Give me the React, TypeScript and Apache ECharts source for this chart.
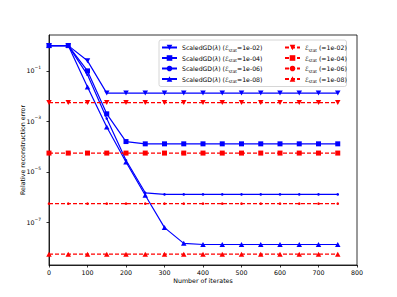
import React, { useEffect, useRef } from "react";
import * as echarts from "echarts";

const iterations = [0, 50, 100, 150, 200, 250, 300, 350, 400, 450, 500, 550, 600, 650, 700, 750];

const gd1 = [1.0, 1.0, 0.25, 0.0132, 0.0132, 0.0132, 0.0132, 0.0132, 0.0132, 0.0132, 0.0132, 0.0132, 0.0132, 0.0132, 0.0132, 0.0132];
const gd2 = [1.0, 1.0, 0.1, 0.002, 1.6e-4, 1.3e-4, 1.3e-4, 1.3e-4, 1.3e-4, 1.3e-4, 1.3e-4, 1.3e-4, 1.3e-4, 1.3e-4, 1.3e-4, 1.3e-4];
const gd3 = [1.0, 1.0, 0.07, 0.0013, 2.9e-5, 1.5e-6, 1.3e-6, 1.3e-6, 1.3e-6, 1.3e-6, 1.3e-6, 1.3e-6, 1.3e-6, 1.3e-6, 1.3e-6, 1.3e-6];
const gd4 = [1.0, 1.0, 0.023, 6e-4, 2.5e-5, 1.2e-6, 6.3e-8, 1.5e-8, 1.35e-8, 1.35e-8, 1.35e-8, 1.35e-8, 1.35e-8, 1.35e-8, 1.35e-8, 1.35e-8];

const stat1 = [5.6e-3, 5.6e-3, 5.6e-3, 5.6e-3, 5.6e-3, 5.6e-3, 5.6e-3, 5.6e-3, 5.6e-3, 5.6e-3, 5.6e-3, 5.6e-3, 5.6e-3, 5.6e-3, 5.6e-3, 5.6e-3];
const stat2 = [5.6e-5, 5.6e-5, 5.6e-5, 5.6e-5, 5.6e-5, 5.6e-5, 5.6e-5, 5.6e-5, 5.6e-5, 5.6e-5, 5.6e-5, 5.6e-5, 5.6e-5, 5.6e-5, 5.6e-5, 5.6e-5];
const stat3 = [5.6e-7, 5.6e-7, 5.6e-7, 5.6e-7, 5.6e-7, 5.6e-7, 5.6e-7, 5.6e-7, 5.6e-7, 5.6e-7, 5.6e-7, 5.6e-7, 5.6e-7, 5.6e-7, 5.6e-7, 5.6e-7];
const stat4 = [5.6e-9, 5.6e-9, 5.6e-9, 5.6e-9, 5.6e-9, 5.6e-9, 5.6e-9, 5.6e-9, 5.6e-9, 5.6e-9, 5.6e-9, 5.6e-9, 5.6e-9, 5.6e-9, 5.6e-9, 5.6e-9];

const epsLabels = ["1e-02", "1e-04", "1e-06", "1e-08"];
const yTickValues = [1e-1, 1e-3, 1e-5, 1e-7];
const xTicks = [0, 100, 200, 300, 400, 500, 600, 700, 800];

const FONT = "DejaVu Sans";

export default function App() {
  const ref = useRef<HTMLDivElement>(null);
  useEffect(() => {
    if (!ref.current) return;
    const chart = echarts.init(ref.current, undefined, { renderer: "svg" });
    const pair = (ys: number[]) => iterations.map((x, i) => [x, ys[i]]);
    const gdData = [gd1, gd2, gd3, gd4];
    const statData = [stat1, stat2, stat3, stat4];
    const symbols = [
      { symbol: "triangle", rotate: 180, size: [5.5, 5] },
      { symbol: "rect", rotate: 0, size: 5 },
      { symbol: "circle", rotate: 0, size: 2.6 },
      { symbol: "triangle", rotate: 0, size: [5.5, 5] },
    ];
    const gdNames = epsLabels.map((_, i) => "gd" + i);
    const stNames = epsLabels.map((_, i) => "st" + i);
    const series: any[] = [];
    gdData.forEach((ys, i) => {
      series.push({
        name: gdNames[i],
        type: "line",
        data: pair(ys),
        symbol: symbols[i].symbol,
        symbolRotate: symbols[i].rotate,
        symbolSize: symbols[i].size,
        showAllSymbol: true,
        color: "#0000ff",
        itemStyle: { color: "#0000ff" },
        lineStyle: { color: "#0000ff", width: 1.2 },
        z: 3,
      });
    });
    statData.forEach((ys, i) => {
      series.push({
        name: stNames[i],
        type: "line",
        data: pair(ys),
        symbol: symbols[i].symbol,
        symbolRotate: symbols[i].rotate,
        symbolSize: symbols[i].size,
        showAllSymbol: true,
        color: "#ff0000",
        itemStyle: { color: "#ff0000" },
        lineStyle: { color: "#ff0000", width: 1.2, type: [4, 2] },
        z: 4,
      });
    });

    const legendRich = {
      it: { fontStyle: "italic", fontSize: 6.2, fontFamily: FONT, lineHeight: 9 },
      sub: { fontSize: 4.3, fontFamily: FONT, lineHeight: 4, verticalAlign: "bottom" },
    };
    const legendFormatter = (name: string) => {
      const idx = Number(name.slice(2));
      if (name.startsWith("gd")) {
        return `ScaledGD({it|λ}) ({it|ℰ}{sub|stat}=${epsLabels[idx]})`;
      }
      return `{it|ℰ}{sub|stat} (=${epsLabels[idx]})`;
    };
    const legendText = { fontSize: 6.2, fontFamily: FONT, color: "#000", lineHeight: 9, rich: legendRich };

    chart.setOption({
      animation: false,
      textStyle: { fontFamily: FONT },
      grid: {
        left: 49,
        right: 40,
        top: 35,
        bottom: 32,
        show: true,
        borderColor: "#000",
        borderWidth: 0.8,
        backgroundColor: "transparent",
      },
      legend: [
        {
          data: gdNames,
          orient: "vertical",
          left: 159,
          top: 40,
          itemGap: 1.5,
          itemWidth: 15,
          itemHeight: 7,
          padding: [3, 84, 3, 2],
          borderColor: "#cccccc",
          borderWidth: 0.8,
          borderRadius: 2,
          backgroundColor: "rgba(255,255,255,0.8)",
          formatter: legendFormatter,
          textStyle: legendText,
          itemStyle: { borderWidth: 0 },
          z: 10,
        },
        {
          data: stNames,
          orient: "vertical",
          left: 282,
          top: 40,
          itemGap: 1.5,
          itemWidth: 15,
          itemHeight: 7,
          padding: [3, 2, 3, 2],
          formatter: legendFormatter,
          textStyle: legendText,
          itemStyle: { borderWidth: 0 },
          z: 11,
        },
      ],
      xAxis: {
        type: "value",
        min: xTicks[0],
        max: xTicks[xTicks.length - 1],
        interval: 100,
        name: "Number of iterates",
        nameLocation: "middle",
        nameGap: 12.5,
        nameMoveOverlap: false,
        nameTextStyle: { fontSize: 6.3, color: "#000", fontFamily: FONT },
        axisLine: { show: true, lineStyle: { color: "#000", width: 0.8 } },
        axisTick: { show: true, length: 2.5, lineStyle: { color: "#000", width: 0.8 } },
        axisLabel: { fontSize: 6.3, color: "#000", margin: 4, fontFamily: FONT },
        splitLine: { show: false },
      },
      yAxis: {
        type: "log",
        logBase: 10,
        min: Math.pow(10, -8.68),
        max: Math.pow(10, 0.42),
        name: "Relative reconstruction error",
        nameLocation: "middle",
        nameGap: 23.5,
        nameMoveOverlap: false,
        nameTextStyle: { fontSize: 6.3, color: "#000", fontFamily: FONT },
        axisLine: { show: true, lineStyle: { color: "#000", width: 0.8 } },
        axisTick: { show: true, length: 2.5, customValues: yTickValues, lineStyle: { color: "#000", width: 0.8 } },
        axisLabel: {
          customValues: yTickValues,
          margin: 8,
          color: "#000",
          fontFamily: FONT,
          formatter: (v: number) => {
            const e = Math.round(Math.log10(v));
            return `{b|10}{s|−${Math.abs(e)}}`;
          },
          rich: {
            b: { fontSize: 6.3, fontFamily: FONT, lineHeight: 11, color: "#000" },
            s: { fontSize: 4.4, fontFamily: FONT, lineHeight: 5, verticalAlign: "top", color: "#000" },
          },
        },
        splitLine: { show: false },
        minorTick: { show: false },
      },
      series,
    });
    return () => chart.dispose();
  }, []);
  return <div ref={ref} style={{ width: 397, height: 297, position: "absolute", left: 0, top: 0 }} />;
}
